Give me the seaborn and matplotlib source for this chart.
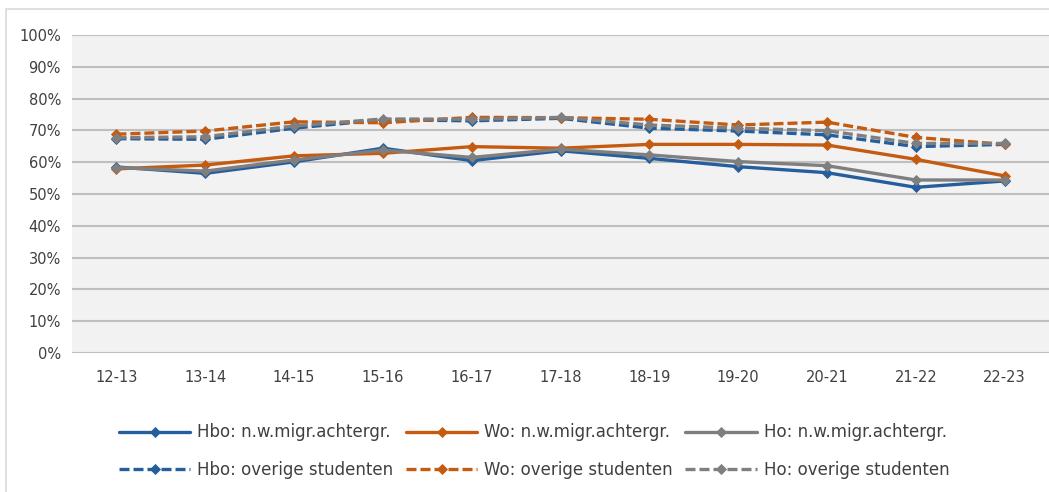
import numpy as np
import pandas as pd
import seaborn as sns
import matplotlib.pyplot as plt
from matplotlib.patches import Rectangle
from matplotlib.ticker import PercentFormatter

# Studiejaren
years = ['12-13', '13-14', '14-15', '15-16', '16-17', '17-18',
         '18-19', '19-20', '20-21', '21-22', '22-23']

# Waarden (%)
hbo_nw = [58.5, 56.5, 60.1, 64.4, 60.5, 63.6, 61.2, 58.6, 56.7, 52.1, 54.1]
wo_nw = [57.9, 59.1, 62.0, 62.8, 64.9, 64.4, 65.6, 65.6, 65.4, 60.9, 55.7]
ho_nw = [58.3, 57.2, 60.7, 63.8, 61.5, 64.1, 62.3, 60.2, 58.9, 54.4, 54.4]
hbo_ov = [67.4, 67.2, 70.7, 73.4, 73.0, 73.8, 70.7, 69.8, 68.6, 64.9, 65.6]
wo_ov = [68.8, 69.8, 72.7, 72.4, 74.1, 74.0, 73.5, 71.7, 72.6, 67.8, 65.6]
ho_ov = [67.7, 68.0, 71.4, 73.6, 73.5, 74.1, 71.7, 70.7, 69.9, 65.9, 65.9]

labels = ['Hbo: n.w.migr.achtergr.', 'Wo: n.w.migr.achtergr.', 'Ho: n.w.migr.achtergr.',
          'Hbo: overige studenten', 'Wo: overige studenten', 'Ho: overige studenten']
series = [hbo_nw, wo_nw, ho_nw, hbo_ov, wo_ov, ho_ov]
colors = ['#255E9C', '#C55A11', '#7F7F7F', '#255E9C', '#C55A11', '#7F7F7F']
dashed = [False, False, False, True, True, True]

sns.set_theme(style='white')
plt.rcParams['font.family'] = ['DejaVu Sans']

fig = plt.figure(figsize=(10.49, 4.92), dpi=100)
ax = fig.add_axes([72 / 1049, 1 - 353 / 492, 1 - 72 / 1049, (353 - 35) / 492])
ax.set_facecolor('#F2F2F2')

# rand om de grafiek
fig.patches.append(Rectangle((6 / 1049, -0.05), 1.2, 1.05 - 9 / 492,
                             transform=fig.transFigure, fill=False,
                             edgecolor='#D9D9D9', linewidth=1.2, zorder=0))

for i, (lab, vals) in enumerate(zip(labels, series)):
    df = pd.DataFrame({'jaar': years, 'waarde': vals})
    sns.lineplot(data=df, x='jaar', y='waarde', ax=ax, sort=False,
                 color=colors[i], linewidth=2.4, marker='D', markersize=8.5,
                 markeredgewidth=0.6, markeredgecolor=colors[i],
                 linestyle='--' if dashed[i] else '-', label=lab, zorder=3 + i)
    if dashed[i]:
        ax.lines[-1].set_dashes((3.0, 1.2))

ax.set_xlim(-0.5, len(years) - 0.5)
ax.set_ylim(0, 100)
ax.set_yticks(np.arange(0, 101, 10))
ax.yaxis.set_major_formatter(PercentFormatter(decimals=0))
ax.grid(axis='y', color='#BFBFBF', linewidth=1.5)
ax.grid(axis='x', visible=False)
for s in ax.spines.values():
    s.set_visible(False)
ax.set_xlabel('')
ax.set_ylabel('')
ax.tick_params(axis='both', length=0, labelsize=10.5, colors='#404040')
ax.tick_params(axis='x', pad=12)
ax.tick_params(axis='y', pad=8)

handles, labs = ax.get_legend_handles_labels()
ax.get_legend().remove()
for h in handles:
    h.set_markersize(5.5)
# rijsgewijs vullen: matplotlib vult kolom voor kolom
order = [0, 3, 1, 4, 2, 5]
fig.legend([handles[k] for k in order], [labs[k] for k in order],
           loc='center', bbox_to_anchor=(534 / 1049, 1 - 451 / 492),
           ncol=3, frameon=False, fontsize=12, handlelength=4.3,
           handletextpad=0.4, columnspacing=0.75, labelspacing=1.15,
           borderpad=0, labelcolor='#404040')

fig.savefig('out.png', dpi=100)
